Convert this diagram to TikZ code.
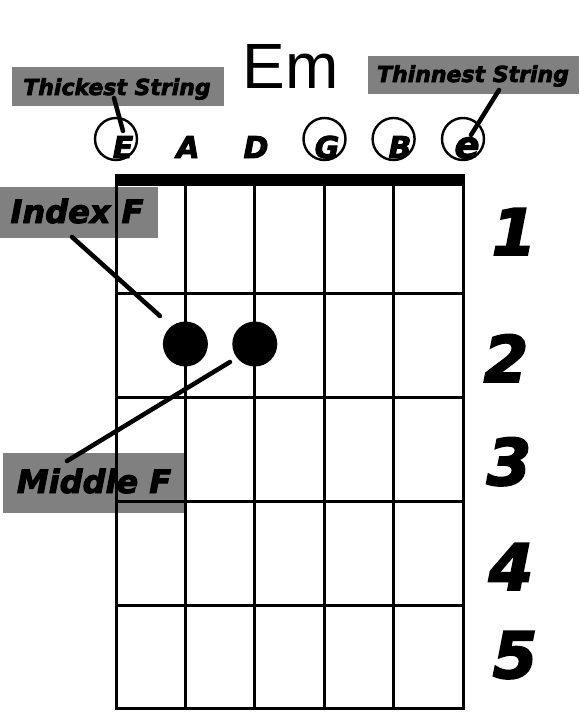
\documentclass[tikz,border=0pt]{standalone}
\usepackage{fontspec}
\setmainfont{Liberation Sans}
\newfontfamily\labfont[BoldItalicFeatures={FakeBold=3}]{DejaVu Sans}
\definecolor{labelgray}{HTML}{808080}
\begin{document}
\begin{tikzpicture}[x=1pt,y=-1pt,
  gridline/.style={line width=3pt, line cap=rect},
  conn/.style={line width=4.5pt, line cap=round},
  labeltext/.style={font=\labfont\bfseries\itshape\fontsize{22}{24}\selectfont, anchor=base, inner sep=0pt},
  fingertext/.style={font=\labfont\bfseries\itshape\fontsize{32}{34}\selectfont, anchor=base, inner sep=0pt},
  fretnum/.style={font=\labfont\bfseries\itshape\fontsize{64}{66}\selectfont, anchor=base, inner sep=0pt},
  strletter/.style={font=\labfont\bfseries\itshape\fontsize{30}{32}\selectfont, anchor=base, inner sep=0pt},
  strcirc/.style={circle, draw, line width=2.4pt, minimum size=42pt, inner sep=0pt},
  dot/.style={circle, fill=black, minimum size=45pt, inner sep=0pt}]
\useasboundingbox (0,0) rectangle (579,720);
\fill[white] (0,0) rectangle (579,720);
% label boxes
\fill[labelgray] (12,67) rectangle (224,106);
\fill[labelgray] (368,56) rectangle (579,94);
\fill[labelgray] (0,187) rectangle (158,238);
\fill[labelgray] (3,453) rectangle (185,513);
% title
\node[font=\fontsize{64}{70}\selectfont, anchor=base, inner sep=0pt] (title) at (290.5,88) {Em};
% grid
\foreach \x in {116,185.4,254.8,324.2,393.6,463}
  \draw[gridline] (\x,186) -- (\x,708);
\foreach \y in {293,397,501,605,708}
  \draw[gridline] (116,\y) -- (463,\y);
\fill (114.5,174) rectangle (464.5,186);
% dots
\node[dot] (dotA) at (185.4,344) {};
\node[dot] (dotD) at (254.8,344) {};
% string circles
\node[strcirc] (cE) at (116,139) {};
\node[strcirc] (cG) at (324.5,139) {};
\node[strcirc] (cB) at (393.6,139) {};
\node[strcirc] (ce) at (463,139) {};
% string letters
\node[strletter] (lE) at (123,158) {E};
\node[strletter] (lA) at (188,158) {A};
\node[strletter] (lD) at (256,158) {D};
\node[strletter] (lG) at (327,158) {G};
\node[strletter] (lB) at (400,158) {B};
\node[strletter, font=\labfont\bfseries\itshape\fontsize{37}{39}\selectfont] (le) at (467,158) {e};
% labels
\node[labeltext] (thick) at (117,95) {Thickest String};
\node[labeltext] (thin) at (473,82) {Thinnest String};
\node[fingertext] (index) at (77,223) {Index F};
\node[fingertext] (middle) at (94,493) {Middle F};
% fret numbers
\node[fretnum] (f1) at (514,255) {1};
\node[fretnum] (f2) at (506,382) {2};
\node[fretnum] (f3) at (509,485) {3};
\node[fretnum] (f4) at (511,590) {4};
\node[fretnum] (f5) at (515,678) {5};
% connectors
\coordinate (thickS) at (114,98);
\coordinate (thickT) at (123,131);
\coordinate (thinS) at (499,90);
\coordinate (thinT) at (471,135);
\coordinate (indexS) at (72,237);
\coordinate (indexT) at (160,316);
\coordinate (middleS) at (67,461);
\coordinate (middleT) at (230,362);
\draw[conn] (thickS) -- (thickT);
\draw[conn] (thinS) -- (thinT);
\draw[conn] (indexS) -- (indexT);
\draw[conn] (middleS) -- (middleT);
\end{tikzpicture}
\end{document}
